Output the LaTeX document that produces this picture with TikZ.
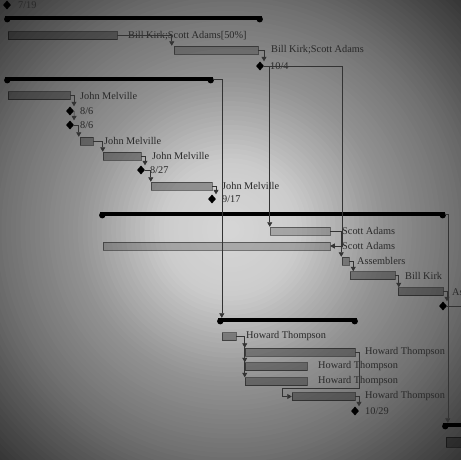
\documentclass[tikz,border=0pt]{standalone}
\usepackage{fontspec}
\setmainfont{Liberation Serif}
\usetikzlibrary{arrows.meta,shapes.geometric}

\definecolor{linkc}{rgb}{0.2,0.2,0.2}
\definecolor{labelc}{rgb}{0.16,0.16,0.16}

\tikzset{
  taskbar/.style={draw=black, draw opacity=0.45, line width=0.5pt, rectangle, inner sep=0pt, minimum height=8pt},
  dkbar/.style={taskbar, fill=black, fill opacity=0.3},
  ltbar/.style={taskbar, fill=black, fill opacity=0.2},
  sumbar/.style={fill=black, rectangle, inner sep=0pt, minimum height=4pt},
  mstone/.style={diamond, fill=black, inner sep=0pt, minimum width=8pt, minimum height=9pt},
  lbl/.style={anchor=west, inner sep=0pt, text=labelc, font=\fontsize{10.3}{12}\selectfont},
  link/.style={draw=linkc, line width=0.6pt, -{Triangle[width=5pt,length=4.5pt]}},
  plainlink/.style={draw=linkc, line width=0.6pt},
}

\begin{document}
\begin{tikzpicture}[x=1pt,y=-1pt]
\useasboundingbox (0,0) rectangle (461,459);
\clip (0,0) rectangle (461,459);

% sheet: light in the middle, darkening towards the corners (nested ellipses)
\foreach \i in {70,69,...,1}{
  \pgfmathsetmacro\s{1.45*\i/70}
  \pgfmathsetmacro\g{\s<0.3 ? 0.84-0.04*\s/0.3 :
    (\s<0.66 ? 0.80-0.22*(\s-0.3)/0.36 :
    (\s<1.0 ? 0.58-0.14*(\s-0.66)/0.34 : 0.44-0.22*(\s-1)/0.41))}
  \pgfmathsetmacro\k{100*(1-\g)}
  \fill[black!\k] (230.5,229.5) ellipse [x radius=\s*230.5, y radius=\s*229.5];
}

% summary bars
\node[sumbar, minimum width=257pt] (s1) at (133.5,18) {};
\node[sumbar, minimum width=208pt] (s2) at (109,79) {};
\node[sumbar, minimum width=345pt] (s3) at (272.5,214) {};
\node[sumbar, minimum width=139pt] (s4) at (287.5,320) {};
\node[sumbar, minimum width=40pt]  (s5) at (463,425) {};
\foreach \s in {s1,s2,s3,s4}{
  \fill ([xshift=2.5pt,yshift=-1.2pt]\s.west) circle (3.2pt);
  \fill ([xshift=-2.5pt,yshift=-1.2pt]\s.east) circle (3.2pt);
}
\fill ([xshift=2.5pt,yshift=-1.2pt]s5.west) circle (3.2pt);

% task bars
\node[dkbar, minimum width=109pt] (A)  at (62.5,35.5) {};
\node[ltbar, minimum width=84pt]  (B)  at (216,50) {};
\node[dkbar, minimum width=62pt]  (J1) at (39,95.5) {};
\node[dkbar, minimum width=13pt]  (J2) at (86.5,141) {};
\node[dkbar, minimum width=38pt]  (J3) at (122,156) {};
\node[dkbar, minimum width=61pt]  (J4) at (181.5,186) {};
\node[ltbar, minimum width=60pt]  (S1) at (300,231) {};
\node[ltbar, minimum width=227pt] (S2) at (216.5,246) {};
\node[dkbar, minimum width=7pt]   (As) at (345.5,261) {};
\node[dkbar, minimum width=45pt]  (BK) at (372.5,275.5) {};
\node[dkbar, minimum width=45pt]  (Ax) at (420.5,291.5) {};
\node[dkbar, minimum width=14pt]  (H1) at (229,336.5) {};
\node[dkbar, minimum width=110pt] (H2) at (300,352) {};
\node[dkbar, minimum width=62pt]  (H3) at (276,366.5) {};
\node[dkbar, minimum width=62pt]  (H4) at (276,381.5) {};
\node[dkbar, minimum width=63pt]  (H5) at (323.5,396.5) {};
\node[dkbar, minimum width=34pt, minimum height=10pt] (Bt) at (463,442) {};

% milestones
\node[mstone] (m0) at (7,5) {};
\node[mstone] (m1) at (260,66) {};
\node[mstone] (m2) at (70,111) {};
\node[mstone] (m3) at (70,125) {};
\node[mstone] (m4) at (141,170) {};
\node[mstone] (m5) at (212,199) {};
\node[mstone] (m6) at (443,306) {};
\node[mstone] (m7) at (355,411) {};
\coordinate (m6out) at (470,306);

% labels
\node[lbl] (l0)  at (18,5) {7/19};
\node[lbl] (lA)  at (128,35.5) {Bill Kirk;Scott Adams[50\%]};
\node[lbl] (lB)  at (271,50) {Bill Kirk;Scott Adams};
\node[lbl] (l1)  at (270,66) {10/4};
\node[lbl] (lJ1) at (80,95.5) {John Melville};
\node[lbl] (l2)  at (80,111) {8/6};
\node[lbl] (l3)  at (80,125) {8/6};
\node[lbl] (lJ2) at (104,141) {John Melville};
\node[lbl] (lJ3) at (152,156) {John Melville};
\node[lbl] (l4)  at (150,170) {8/27};
\node[lbl] (lJ4) at (222,186) {John Melville};
\node[lbl] (l5)  at (222,199) {9/17};
\node[lbl] (lS1) at (342,231) {Scott Adams};
\node[lbl] (lS2) at (342,246) {Scott Adams};
\node[lbl] (lAs) at (357,261) {Assemblers};
\node[lbl] (lBK) at (405,275.5) {Bill Kirk};
\node[lbl] (lAx) at (452,291.5) {Assemblers};
\node[lbl] (lH1) at (246,336.5) {Howard Thompson};
\node[lbl] (lH2) at (365,352) {Howard Thompson};
\node[lbl] (lH3) at (318,366.5) {Howard Thompson};
\node[lbl] (lH4) at (318,381.5) {Howard Thompson};
\node[lbl] (lH5) at (365,396.5) {Howard Thompson};
\node[lbl] (l7)  at (365,411) {10/29};

% dependency links
\draw[link] (A.east) -| ([xshift=-2pt]B.north west);
\draw[link] (B.east) -| ([xshift=4pt]m1.north);
\draw[link] (m1.east) -| (S1.north west);
\draw[link] (m1.east) -| ([xshift=12pt]S2.east) -- (S2.east);
\draw[link] (S1.east) -| ([xshift=-0.5pt]As.north west);
\draw[link] (As.east) -| ([xshift=3.5pt]BK.north west);
\draw[link] (BK.east) -| ([xshift=1pt]Ax.north west);
\draw[link] (Ax.east) -| ([xshift=4pt]m6.north);
\draw[plainlink] (m6.east) -- (m6out);

\draw[link] (J1.east) -| ([xshift=4pt]m2.north);
\draw[link] (m2.east) -- ([xshift=4pt]m3.north);
\draw[link] (m3.east) -| ([xshift=-1pt]J2.north west);
\draw[link] (J2.east) -| (J3.north west);
\draw[link] (J3.east) -| ([xshift=4pt]m4.north);
\draw[link] (m4.east) -| (J4.north west);
\draw[link] (J4.east) -| ([xshift=4pt]m5.north);

\draw[link] (s2.east) -| ([xshift=4pt]s4.north west);
\draw[link] (s3.east) -| ([xshift=5pt]s5.north west);

\draw[link] (H1.east) -| (H2.north west);
\draw[link] (H1.east) -| (H3.north west);
\draw[link] (H1.east) -| (H4.north west);
\draw[link] (H2.east) -- ++(4,0) -- ++(0,36) -- ++(-77,0) |- (H5.west);
\draw[link] (H5.east) -| ([xshift=4pt]m7.north);
\end{tikzpicture}
\end{document}
